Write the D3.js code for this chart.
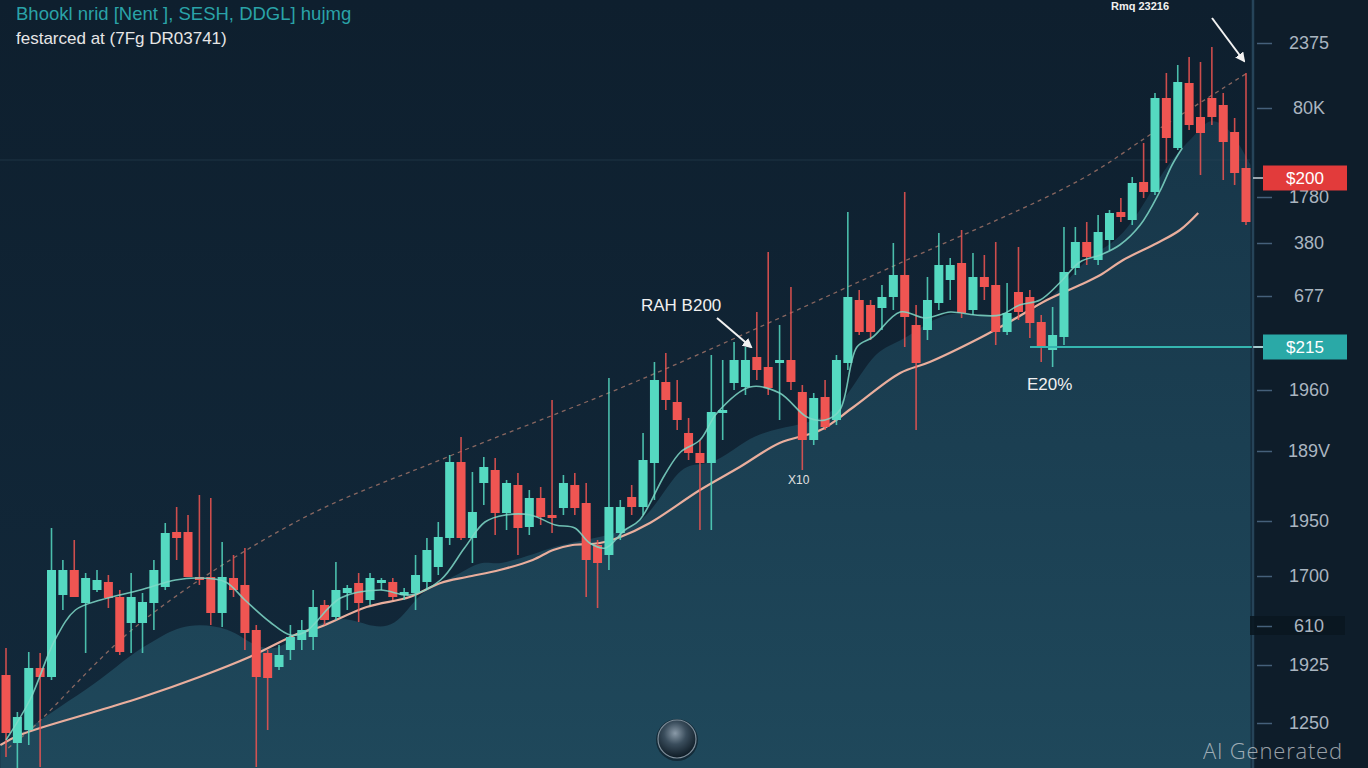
<!DOCTYPE html>
<html><head><meta charset="utf-8">
<script src="https://cdn.jsdelivr.net/npm/d3@7"></script>
<style>html,body{margin:0;padding:0;background:#0f2030;overflow:hidden}svg{display:block}</style>
</head><body>
<svg id="c" width="1368" height="768"></svg>
<script>
// ---- data (price units, arbitrary) ----
const openV = [125,57,70,132,123,205,230,197,210,218,203,177,177,197,213,268,268,223,223,187,
222,215,170,147,133,150,160,163,195,183,207,217,200,217,218,205,207,218,233,262,
338,262,317,330,287,315,273,302,285,292,315,297,255,245,267,303,293,337,418,398,
367,347,337,387,417,413,443,433,437,440,408,360,403,380,437,500,495,492,503,525,
475,470,497,520,537,490,523,515,468,508,503,478,450,463,532,558,540,560,588,580,
618,608,702,652,717,683,702,695,668,632];
const highV = [152,88,148,147,272,240,260,227,230,225,210,227,207,240,277,293,285,305,302,258,
245,252,175,150,155,175,180,210,200,238,215,227,227,222,222,212,245,262,278,345,
363,328,343,342,320,327,310,313,400,325,327,317,260,422,300,315,367,438,447,420,
382,360,445,440,458,453,488,548,475,513,415,407,420,445,588,510,500,515,557,608,
495,523,567,542,570,547,545,558,517,553,510,485,493,573,573,578,585,590,602,623,
657,707,727,735,743,738,753,707,682,727];
const lowV = [43,32,55,33,120,190,203,147,208,192,145,147,147,170,210,240,223,215,175,173,
203,150,33,70,130,140,150,150,175,180,190,178,195,210,200,200,190,210,225,255,
260,237,295,265,270,245,265,275,267,285,285,203,192,230,260,285,285,300,390,370,
340,270,270,360,410,405,420,405,380,410,330,355,370,375,430,465,460,470,490,453,
370,460,490,500,482,485,500,455,465,480,462,438,433,455,525,535,535,550,578,575,
602,605,637,650,670,625,675,620,615,575];
const closeV = [67,83,132,123,230,230,203,222,220,202,148,203,198,230,267,262,223,220,187,223,
210,167,123,122,145,163,170,193,180,210,212,197,222,220,203,208,225,250,263,338,
262,288,333,287,317,272,302,283,282,317,292,240,237,293,293,293,340,420,400,380,
347,337,388,390,440,440,430,412,440,418,360,402,373,440,503,468,468,503,525,483,
437,500,535,535,487,523,513,468,487,488,477,453,465,528,558,543,568,587,583,617,
608,702,662,718,675,667,683,658,627,578];
// moving averages / trend: [candle index, price]
const maFast = [[0,60],[2.1,100],[4.3,160],[6.1,190],[8.3,200],[11.8,210],[14.9,220],[17,222],[19.3,218],[21,200],[23.2,178],[25,165],[26.3,168],[29.4,202],[32.9,210],[35.5,205],[38.2,220],[40.3,252],[42.1,278],[43.9,285],[46.1,285],[48.3,275],[50,272],[51.3,257],[52.7,252],[54.4,270],[55.7,280],[57.9,325],[59.3,348],[61,360],[62.5,387],[65.4,413],[68,407],[70.4,383],[72,380],[73.3,390],[74.8,453],[76.2,463],[78.6,488],[80.8,482],[83,488],[85.2,485],[87.4,485],[89.1,495],[90.9,500],[92.7,518],[94.4,538],[96.2,545],[97.9,555],[99.7,575],[101.4,608],[102.5,635],[103.4,652]];
const maSlow = [[-0.5,55],[1.2,65],[8.3,90],[12,103],[17,123],[21.4,143],[25.8,167],[27.6,173],[31.7,193],[35.5,203],[38.2,217],[40.5,223],[43.4,230],[46.3,240],[48.1,250],[49.8,255],[52.2,257],[54,263],[56.6,277],[61,310],[64.5,333],[68,357],[71.6,370],[74.5,393],[78.6,427],[81.2,438],[85.6,462],[88.5,480],[91.5,500],[94.4,515],[96.2,525],[98.2,540],[101.2,557],[103.2,570],[104.8,587]];
const trend = [[0.2,52],[2.4,73],[11.8,177],[25.8,280],[38.8,343],[55.7,420],[78.6,537],[94.4,620],[101.2,670],[109.1,727]];
const areaTop = [[-0.5,55],[2.1,72],[5.6,100],[8.3,120],[10.9,145],[13.5,163],[15.9,177],[19.7,173],[21.9,152],[24.1,150],[25.8,168],[29.4,185],[31.6,175],[34.2,170],[36.4,210],[39,220],[41.7,240],[43,235],[44.7,240],[46.9,248],[48.7,255],[50.9,260],[54,267],[56.6,283],[59.2,335],[61,335],[62.8,340],[65,360],[67.2,370],[69.8,375],[73.3,387],[76.2,450],[78.6,457],[81.2,480],[83.9,490],[87.4,480],[90,485],[92.7,510],[95.3,547],[98.2,560],[101.2,620],[102.9,647],[104.7,667],[105.8,683],[107.6,673],[109.4,635]];
const tickValues = [757,692,603,557,504,410,349,279,224,174,135,77];
const tickLabels = ["2375","80K","1780","380","677","1960","189V","1950","1700","610","1925","1250"];
const priceTags = [{label:"$200", value:622, color:"#e23b3b"},{label:"$215", value:453, color:"#2aa9a7"}];
const titleText = "Bhookl nrid [Nent ], SESH, DDGL] hujmg";
const subtitleText = "festarced at (7Fg DR03741)";

// ---- drawing ----
const W = 1368, H = 768;
const svg = d3.select("#c");
const x = d3.scaleLinear().domain([0, 109]).range([6, 1246]);
const y = d3.scaleLinear().domain([32, 800]).range([768, 0]);
const UP = "#55d9c1", DOWN = "#ef5552";
const font = "'Liberation Sans', Arial, sans-serif";

const defs = svg.append("defs");
const bg = defs.append("linearGradient").attr("id","bg").attr("x1",0).attr("y1",0).attr("x2",0).attr("y2",1);
bg.append("stop").attr("offset","0%").attr("stop-color","#0e1f2e");
bg.append("stop").attr("offset","100%").attr("stop-color","#12293b");
const ag = defs.append("linearGradient").attr("id","ag").attr("x1",0).attr("y1",0).attr("x2",0).attr("y2",1);
ag.append("stop").attr("offset","0%").attr("stop-color","#173649");
ag.append("stop").attr("offset","100%").attr("stop-color","#1f485b");
const cg = defs.append("radialGradient").attr("id","cg").attr("cx","45%").attr("cy","35%").attr("r","65%");
cg.append("stop").attr("offset","0%").attr("stop-color","#8a9aa8");
cg.append("stop").attr("offset","45%").attr("stop-color","#3a4d5c");
cg.append("stop").attr("offset","100%").attr("stop-color","#0d1a24");

svg.append("rect").attr("width",W).attr("height",H).attr("fill","url(#bg)");

// area under price
svg.append("path").datum(areaTop)
  .attr("d", d3.area().x(d=>x(d[0])).y0(H).y1(d=>y(d[1])).curve(d3.curveBasis))
  .attr("fill","url(#ag)");

// right panel
svg.append("rect").attr("x",1253).attr("y",0).attr("width",W-1253).attr("height",H).attr("fill","#0e1d2a");

// faint horizontal guide
svg.append("line").attr("x1",0).attr("x2",1250).attr("y1",160).attr("y2",160)
  .attr("stroke","#2a4556").attr("stroke-width",1).attr("opacity",0.55);

// dashed trend
svg.append("path").datum(trend)
  .attr("d", d3.line().x(d=>x(d[0])).y(d=>y(d[1])).curve(d3.curveCatmullRom))
  .attr("fill","none").attr("stroke","#c98b78").attr("stroke-width",1.3)
  .attr("stroke-dasharray","4,4").attr("opacity",0.65);

// slow MA
svg.append("path").datum(maSlow)
  .attr("d", d3.line().x(d=>x(d[0])).y(d=>y(d[1])).curve(d3.curveCatmullRom))
  .attr("fill","none").attr("stroke","#e9ae9d").attr("stroke-width",2.2);

// candles
const idx = d3.range(openV.length);
const cg2 = svg.append("g");
cg2.selectAll("line.w").data(idx).join("line")
  .attr("x1",i=>x(i)).attr("x2",i=>x(i))
  .attr("y1",i=>y(highV[i])).attr("y2",i=>y(lowV[i]))
  .attr("stroke",i=>closeV[i]>=openV[i]?UP:DOWN).attr("stroke-width",1.6).attr("opacity",0.85);
cg2.selectAll("rect.b").data(idx).join("rect")
  .attr("x",i=>x(i)-4.5).attr("width",9)
  .attr("y",i=>y(Math.max(openV[i],closeV[i])))
  .attr("height",i=>Math.max(2.5, Math.abs(y(openV[i])-y(closeV[i]))))
  .attr("fill",i=>closeV[i]>=openV[i]?UP:DOWN);

// fast MA
svg.append("path").datum(maFast)
  .attr("d", d3.line().x(d=>x(d[0])).y(d=>y(d[1])).curve(d3.curveCatmullRom))
  .attr("fill","none").attr("stroke","#7fd9c8").attr("stroke-width",1.6).attr("opacity",0.85);

// $215 horizontal line
svg.append("line").attr("x1",1030).attr("x2",1263)
  .attr("y1",y(priceTags[1].value)).attr("y2",y(priceTags[1].value))
  .attr("stroke","#35b6b0").attr("stroke-width",2);

// right axis
svg.append("line").attr("x1",1253).attr("x2",1253).attr("y1",0).attr("y2",H).attr("stroke","#264459").attr("stroke-width",2.5);
svg.append("rect").attr("x",1250).attr("y",y(174)-10).attr("width",95).attr("height",19).attr("fill","#0a1720").attr("opacity",0.9);
const axis = d3.axisRight(y).tickValues(tickValues).tickFormat((d,i)=>tickLabels[i]).tickSize(15).tickPadding(0);
const ax = svg.append("g").attr("transform","translate(1257,0)").call(axis);
ax.select(".domain").remove();
ax.selectAll(".tick line").attr("stroke","#45607a").attr("stroke-width",1.5);
ax.selectAll(".tick text").attr("x",52).attr("text-anchor","middle")
  .attr("fill","#aab5c0").attr("font-size",18).attr("font-family",font);

// price tags
priceTags.forEach(t=>{
  const yy = y(t.value);
  svg.append("line").attr("x1",1253).attr("x2",1263).attr("y1",yy).attr("y2",yy).attr("stroke","#c9d2da").attr("stroke-width",1.5);
  svg.append("rect").attr("x",1263).attr("y",yy-12.5).attr("width",84).attr("height",25).attr("fill",t.color);
  svg.append("text").attr("x",1305).attr("y",yy+6).attr("text-anchor","middle")
    .attr("fill","#ffffff").attr("font-size",17).attr("font-family",font).text(t.label);
});

// arrows
defs.append("marker").attr("id","ah").attr("viewBox","0 0 10 10").attr("refX",8).attr("refY",5)
  .attr("markerWidth",5).attr("markerHeight",5).attr("orient","auto")
  .append("path").attr("d","M0,0L10,5L0,10z").attr("fill","#f2f2f2");
svg.append("line").attr("x1",717).attr("y1",318).attr("x2",751).attr("y2",347)
  .attr("stroke","#f2f2f2").attr("stroke-width",2).attr("marker-end","url(#ah)");
svg.append("line").attr("x1",1212).attr("y1",18).attr("x2",1244).attr("y2",61)
  .attr("stroke","#f2f2f2").attr("stroke-width",2).attr("marker-end","url(#ah)");

// annotation texts
const txt = (s,xx,yy,size,fill,extra)=>{
  const t = svg.append("text").attr("x",xx).attr("y",yy).attr("font-size",size)
    .attr("font-family",font).attr("fill",fill).text(s);
  if(extra) extra(t);
  return t;
};
txt("RAH B200",641,311,17,"#f0f0f0");
txt("E20%",1027,390,17,"#f0f0f0");
txt("X10",788,484,12,"#e0e0e0");
txt("Rmq 23216",1111,10,11,"#f0f0f0",t=>t.attr("font-weight","bold"));
txt(titleText,16,20,18.5,"#2aa3a8");
txt(subtitleText,16,44,17,"#e6e6e6");
txt("AI Generated",1203,759,22,"#cfd4d9",t=>t.attr("opacity",0.72).attr("font-family","'Open Sans', sans-serif").attr("font-weight",300).attr("letter-spacing",0.8));

// coin icon
svg.append("circle").attr("cx",677).attr("cy",740).attr("r",21).attr("fill","#0b1822").attr("opacity",0.6);
svg.append("circle").attr("cx",677).attr("cy",739).attr("r",19).attr("fill","url(#cg)").attr("stroke","#7f8e9a").attr("stroke-width",1.2);
</script>
</body></html>
